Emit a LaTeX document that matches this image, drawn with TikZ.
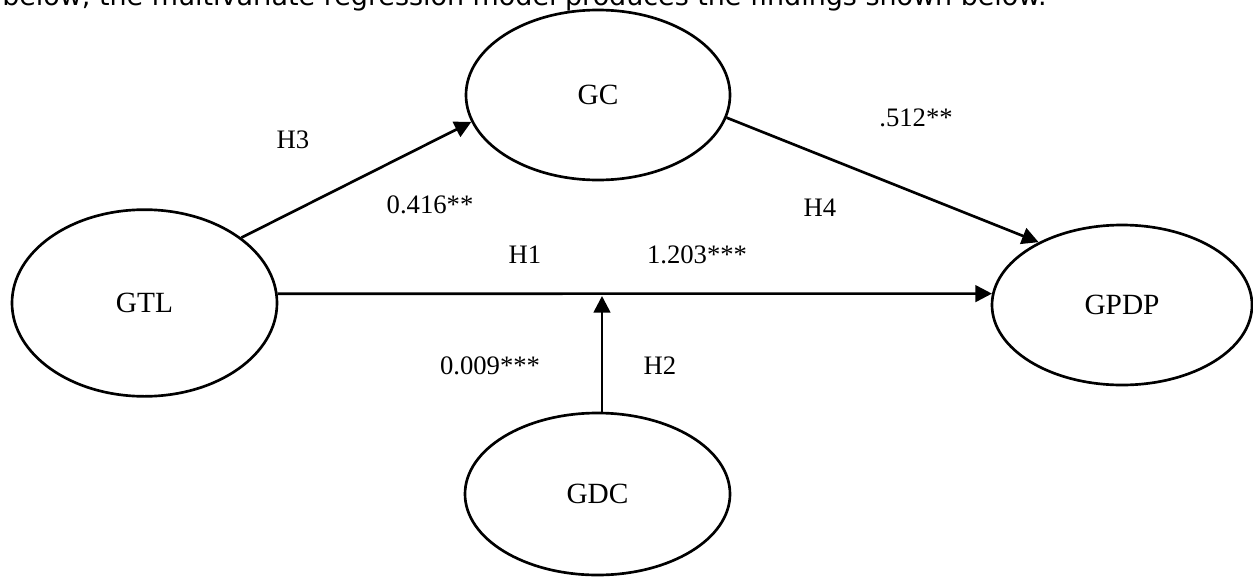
\documentclass[tikz,border=0pt]{standalone}
\usepackage{fontspec}
\setmainfont{Liberation Serif}
\newfontfamily\introfont{DejaVu Sans}
\usetikzlibrary{positioning, shapes.geometric, arrows.meta}

\begin{document}
\begin{tikzpicture}[x=0.75pt, y=-0.75pt,
    latent/.style={ellipse, draw, line width=2pt, inner sep=0pt, font=\fontsize{22}{26}\selectfont},
    effect/.style={line width=2pt, -{Triangle[length=12.5pt, width=12.5pt]}},
    coef/.style={inner sep=0pt, font=\fontsize{20}{24}\selectfont}]
  \useasboundingbox (0,0) rectangle (1253,578);
  \clip (0,0) rectangle (1253,578);
  \node[anchor=base west, inner sep=0pt, font=\introfont\fontsize{20.2}{24}\selectfont] (intro) at (2,6)
    {below, the multivariate regression model produces the findings shown below.};
  % constructs
  \node[latent, minimum width=198.75pt, minimum height=140pt] (gtl) at (144.5,303) {GTL};
  \node[latent, minimum width=198pt, minimum height=127.5pt] (gc) at (598,95) {GC};
  \node[latent, minimum width=195pt, minimum height=120pt] (gpdp) at (1122,305) {GPDP};
  \node[latent, minimum width=198.75pt, minimum height=121.5pt] (gdc) at (597.5,494) {GDC};
  % paths
  \draw[effect] (gtl.34) -- (gc.192);
  \draw[effect] (gc.-10) -- (gpdp.143);
  \draw[effect] (gtl.4) -- (gpdp.175);
  \coordinate (moder) at (602,296);
  \draw[effect] (gdc.north -| moder) -- (moder);
  % hypotheses and coefficients
  \node[coef] (h3) at (293,140) {H3};
  \node[coef] (b3) at (430,205) {0.416**};
  \node[coef] (b4) at (916,118) {.512**};
  \node[coef] (h4) at (820,208) {H4};
  \node[coef] (h1) at (525,255) {H1};
  \node[coef] (b1) at (697,255) {1.203***};
  \node[coef] (b2) at (490,366) {0.009***};
  \node[coef] (h2) at (660,366) {H2};
\end{tikzpicture}
\end{document}
